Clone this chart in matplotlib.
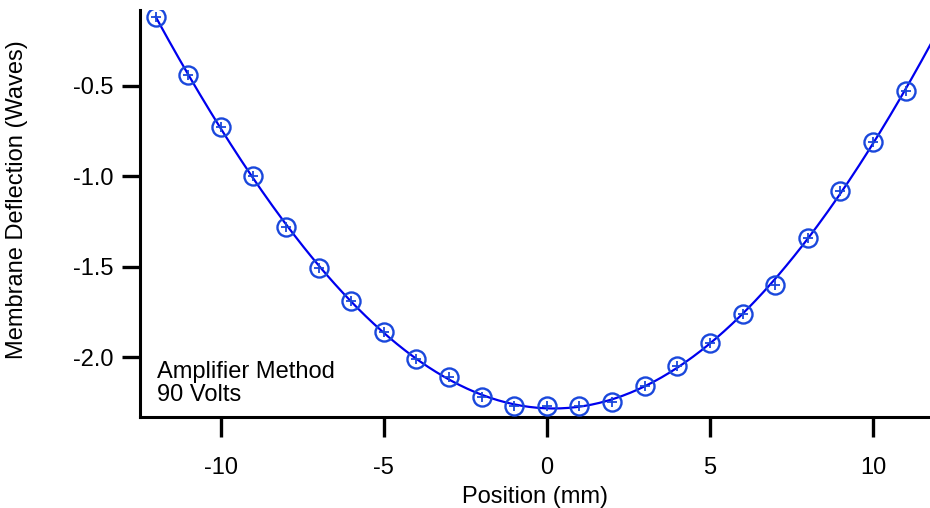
"""Membrane deflection vs position, amplifier method at 90 V."""
import numpy as np
import matplotlib
matplotlib.use("Agg")
import matplotlib.pyplot as plt

position_mm = [-12, -11, -10, -9, -8, -7, -6, -5, -4, -3, -2, -1,
               0, 1, 2, 3, 4, 5, 6, 7, 8, 9, 10, 11]
deflection_waves = [-0.12, -0.44, -0.73, -1.00, -1.28, -1.51, -1.69, -1.86,
                    -2.01, -2.11, -2.22, -2.27, -2.27, -2.27, -2.25, -2.16,
                    -2.05, -1.92, -1.76, -1.60, -1.34, -1.08, -0.81, -0.53]
x_ticks = [-10, -5, 0, 5, 10]
y_ticks = [-2.0, -1.5, -1.0, -0.5]

plt.rcParams["font.family"] = ["Liberation Sans", "DejaVu Sans"]
fs = 17

fig = plt.figure(figsize=(9.3, 5.08), dpi=100)
ax = fig.add_axes([0.1505, 0.179, 0.8495, 0.801])

# fitted curve through the measured points
coef = np.polyfit(position_mm, deflection_waves, 4)
xf = np.linspace(-12, 11.8, 300)
ax.plot(xf, np.polyval(coef, xf), color="#0000ee", lw=1.6, zorder=2)

ax.plot(position_mm, deflection_waves, ls="none", marker="o", ms=13,
        mfc="none", mec="#1a48dc", mew=1.7, zorder=3)
ax.plot(position_mm, deflection_waves, ls="none", marker="+", ms=6.5,
        mec="#1a48dc", mew=1.3, zorder=3)

ax.set_xlim(-12.48, 11.75)
ax.set_ylim(-2.332, -0.082)
ax.set_xticks(x_ticks)
ax.set_yticks(y_ticks)
ax.set_xticklabels([f"{t}" for t in x_ticks])
ax.set_yticklabels([f"{t:.1f}" for t in y_ticks])

for s in ["top", "right"]:
    ax.spines[s].set_visible(False)
for s in ["left", "bottom"]:
    ax.spines[s].set_linewidth(2.2)
ax.tick_params(direction="out", width=2.4, labelsize=fs)
ax.tick_params(axis="y", length=13, pad=6)
ax.tick_params(axis="x", length=14.5, pad=14)

ax.set_xlabel("Position (mm)", fontsize=fs, labelpad=5)
ax.set_ylabel("Membrane Deflection (Waves)", fontsize=fs)
ax.yaxis.set_label_coords(-0.142, 0.535)

ax.text(0.022, 0.028, "Amplifier Method\n90 Volts", transform=ax.transAxes,
        fontsize=fs, ha="left", va="bottom", linespacing=1.05)

fig.savefig("out.png", dpi=100)
